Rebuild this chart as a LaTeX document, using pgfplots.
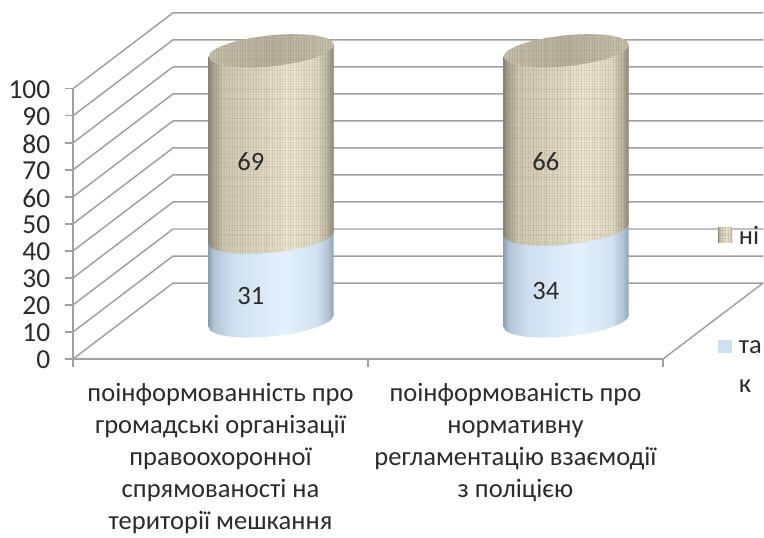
\documentclass[border=0pt]{standalone}
\usepackage{fontspec}
\setmainfont{Carlito}
\usepackage{pgfplots}
\pgfplotsset{compat=1.18}
\usetikzlibrary{patterns.meta}

\definecolor{gridgray}{HTML}{A0A0A0}
\definecolor{inkdark}{HTML}{2B2B2B}
\definecolor{blueflat}{HTML}{CFE0F2}
\definecolor{threadtone}{HTML}{6E6856}
\definecolor{ta}{HTML}{8F8A78}\definecolor{tb}{HTML}{A8A28F}\definecolor{tc}{HTML}{D2CBB6}
\definecolor{td}{HTML}{E0D9C3}\definecolor{te}{HTML}{F0E9D4}\definecolor{tf}{HTML}{E4DDC7}
\definecolor{tg}{HTML}{BDB6A1}\definecolor{th}{HTML}{8A8573}
\definecolor{ba}{HTML}{8FA3B4}\definecolor{bb}{HTML}{B3C4D5}\definecolor{bc}{HTML}{CFDEEE}
\definecolor{bd}{HTML}{E3F1FE}\definecolor{be}{HTML}{D3E2F1}\definecolor{bf}{HTML}{B4C4D4}
\definecolor{bg}{HTML}{8EA2B3}
\definecolor{la}{HTML}{C6C0AC}\definecolor{lb}{HTML}{BAB3A0}\definecolor{lc}{HTML}{C8C2AE}

% side of each cylinder: dark rim, lit middle
\pgfdeclarehorizontalshading{tanbody}{100bp}{
  color(0bp)=(ta); color(25bp)=(ta);
  color(26.5bp)=(tb); color(31bp)=(tc);
  color(45bp)=(td); color(57bp)=(te);
  color(68bp)=(tf); color(72.5bp)=(tg);
  color(75bp)=(th); color(100bp)=(th)}
\pgfdeclarehorizontalshading{bluebody}{100bp}{
  color(0bp)=(ba); color(25bp)=(ba);
  color(27bp)=(bb); color(34bp)=(bc);
  color(55bp)=(bd); color(68bp)=(be);
  color(72.5bp)=(bf); color(75bp)=(bg); color(100bp)=(bg)}
\pgfdeclarehorizontalshading{tantop}{100bp}{
  color(0bp)=(la); color(25bp)=(la);
  color(50bp)=(lb); color(75bp)=(lc); color(100bp)=(lc)}

\tikzset{
  weave/.style={
    postaction={pattern={Lines[angle=0,distance=2pt,line width=.4pt]},pattern color=#1,opacity=.15},
    postaction={pattern={Lines[angle=90,distance=2pt,line width=.4pt]},pattern color=#1,opacity=.15},
    postaction={pattern={Lines[angle=0,distance=7.3pt,line width=1.2pt]},pattern color=#1,opacity=.05},
    postaction={pattern={Lines[angle=90,distance=9.1pt,line width=1.2pt]},pattern color=#1,opacity=.05}},
  capshape/.style={insert path={(0,0) ellipse [x radius=46.875pt,y radius=11.55pt]}},
  labelfont/.style={text=inkdark,font=\fontsize{19.9}{23.9}\selectfont}
}
% elliptical ends of the cylinders
\pgfdeclareplotmark{blueend}{\path[shading=bluebody,draw=none,capshape];}
\pgfdeclareplotmark{tanend}{\path[shading=tanbody,draw=none,weave=threadtone,capshape];}
\pgfdeclareplotmark{tanlid}{\path[shading=tantop,draw=none,weave=threadtone,capshape];}

\pgfplotstableread{
x   tak ni
0.5 31  69
1.5 34  66
}\surveydata

\pgfplotsset{
  cylinderframe/.style={
    scale only axis,width=442.5pt,height=202.7pt,
    at={(92.8pt,162pt)},anchor=origin,
    xmin=0,xmax=2,ymin=0,ymax=100,
    hide axis,clip=false},
  cylinderaxis/.style={cylinderframe,ybar stacked,bar width=93.75pt},
  cyl low/.style={draw=none,shading=bluebody,mark=tanend},
  cyl high/.style={draw=none,shading=tanbody,weave=threadtone,mark=tanlid}
}

\begin{document}
\begin{tikzpicture}[x=1pt,y=1pt]
\path[use as bounding box] (0,0) rectangle (573pt,402.75pt);

% floor, side wall and back wall
\begin{axis}[
  scale only axis,width=442.5pt,height=202.7pt,
  at={(54.75pt,133.5pt)},anchor=origin,
  xmin=0,xmax=2,ymin=0,ymax=100,
  clip=false,
  axis x line=bottom,axis y line=left,
  axis line style={gridgray,line width=1.1pt,-},
  tick style={gridgray,line width=1.1pt},
  tick align=outside,major tick length=6pt,
  xtick={0,1,2},xticklabels={},
  extra x ticks={0.5,1.5},
  extra x tick style={major tick length=0pt,tick style={draw=none}},
  extra x tick labels={%
    {поінформованність про\\громадські організації\\правоохоронної\\спрямованості на\\території мешкання},
    {поінформованість про\\нормативну\\регламентацію взаємодії\\з поліцією}},
  x tick label style={align=center,labelfont,yshift=-15pt},
  ytick={0,10,...,100},
  /pgf/number format/assume math mode=true,
  y tick label style={font=\fontsize{20.6}{24}\selectfont,text=inkdark,xshift=-7.5pt,yshift=-0.8pt},
]
\addplot[gridgray,line width=1.1pt] coordinates {(0,0) (0.339,28.1) (2.339,28.1)};
\addplot[gridgray,line width=1.1pt] coordinates {(0,10) (0.339,38.1) (2.339,38.1)};
\addplot[gridgray,line width=1.1pt] coordinates {(0,20) (0.339,48.1) (2.339,48.1)};
\addplot[gridgray,line width=1.1pt] coordinates {(0,30) (0.339,58.1) (2.339,58.1)};
\addplot[gridgray,line width=1.1pt] coordinates {(0,40) (0.339,68.1) (2.339,68.1)};
\addplot[gridgray,line width=1.1pt] coordinates {(0,50) (0.339,78.1) (2.339,78.1)};
\addplot[gridgray,line width=1.1pt] coordinates {(0,60) (0.339,88.1) (2.339,88.1)};
\addplot[gridgray,line width=1.1pt] coordinates {(0,70) (0.339,98.1) (2.339,98.1)};
\addplot[gridgray,line width=1.1pt] coordinates {(0,80) (0.339,108.1) (2.339,108.1)};
\addplot[gridgray,line width=1.1pt] coordinates {(0,90) (0.339,118.1) (2.339,118.1)};
\addplot[gridgray,line width=1.1pt] coordinates {(0,100) (0.339,128.1) (2.339,128.1)};
\addplot[gridgray,line width=1.1pt] coordinates {(2,0) (2.339,28.1)};
\end{axis}

% first cylinder, leaning with the view angle
\begin{scope}[transform canvas={shift={(203.4pt,0pt)},yslant=0.096,shift={(-203.4pt,0pt)}}]
\begin{axis}[cylinderframe]
\addplot[only marks,mark=blueend] coordinates {(0.5,0)};
\end{axis}
\begin{axis}[cylinderaxis]
\addplot[cyl low]  table[x=x,y=tak,skip coords between index={1}{2}] {\surveydata};
\addplot[cyl high] table[x=x,y=ni,skip coords between index={1}{2}] {\surveydata};
\end{axis}
\end{scope}

% second cylinder
\begin{scope}[transform canvas={shift={(424.65pt,0pt)},yslant=0.096,shift={(-424.65pt,0pt)}}]
\begin{axis}[cylinderframe]
\addplot[only marks,mark=blueend] coordinates {(1.5,0)};
\end{axis}
\begin{axis}[cylinderaxis]
\addplot[cyl low]  table[x=x,y=tak,skip coords between index={0}{1}] {\surveydata};
\addplot[cyl high] table[x=x,y=ni,skip coords between index={0}{1}] {\surveydata};
\end{axis}
\end{scope}

% value labels in front of the cylinders
\begin{axis}[
  scale only axis,width=442.5pt,height=202.7pt,
  at={(54.75pt,133.5pt)},anchor=origin,
  xmin=0,xmax=2,ymin=0,ymax=100,
  hide axis,clip=false,
]
\addplot[only marks,mark=none,
  nodes near coords,point meta=explicit symbolic,
  every node near coord/.style={anchor=center,labelfont}]
  table[meta=v] {
  x     y    v
  0.603 23.4 31
  0.603 73.0 69
  1.603 25.0 34
  1.603 73.0 66
};
\end{axis}

% legend
\path[shading=tanbody,weave=threadtone] (538.5pt,221pt) rectangle (549pt,232pt);
\path[fill=blueflat] (538.5pt,138pt) rectangle (549pt,148pt);
\node[anchor=west,inner sep=0pt,labelfont] at (554pt,226.5pt) {ні};
\node[anchor=west,inner sep=0pt,labelfont] at (554pt,142.5pt) {та};
\node[anchor=west,inner sep=0pt,labelfont] at (554pt,113pt) {к};
\end{tikzpicture}
\end{document}
